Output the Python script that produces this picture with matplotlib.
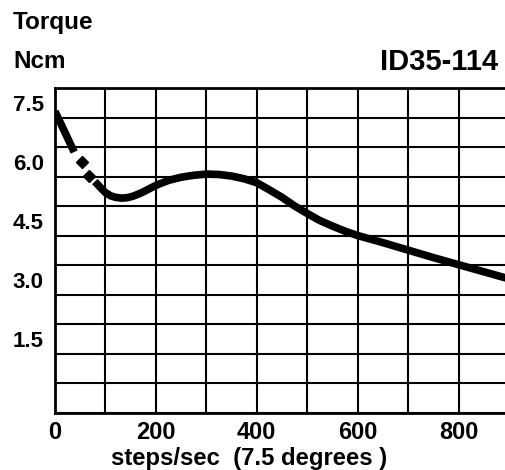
"""Torque vs speed curve for stepper motor ID35-114."""

import matplotlib

matplotlib.use("Agg")
import matplotlib.pyplot as plt
import numpy as np

plt.rcParams["font.family"] = ["Liberation Sans", "DejaVu Sans"]
plt.rcParams["font.weight"] = "bold"

# curve (steps/sec, Ncm)
speed_start = [0, 20, 38]
torque_start = [7.28, 6.74, 6.25]

speed_dashes = [53, 68]
torque_dashes = [6.00, 5.64]

speed_main = [79, 90, 100, 110, 120, 132, 143, 155, 167, 180, 192, 205, 225,
              250, 275, 300, 325, 350, 375, 400, 425, 450, 475, 500, 525, 550,
              575, 600, 650, 700, 750, 800, 850, 900]
torque_main = [5.50, 5.35, 5.22, 5.14, 5.10, 5.08, 5.09, 5.13, 5.19, 5.27,
               5.35, 5.43, 5.53, 5.61, 5.66, 5.69, 5.68, 5.64, 5.57, 5.47,
               5.29, 5.10, 4.88, 4.69, 4.51, 4.37, 4.24, 4.13, 3.95, 3.76,
               3.57, 3.39, 3.21, 3.03]

x_ticks = [0, 200, 400, 600, 800]
y_ticks = [1.5, 3.0, 4.5, 6.0, 7.5]


def main() -> None:
    fig = plt.figure(figsize=(5.06, 4.70), dpi=100)
    ax = fig.add_axes([55 / 506, 57 / 470, 454 / 506, 325 / 470])

    ax.set_xlim(0, 900)
    ax.set_ylim(-0.375, 7.875)

    ax.set_xticks(x_ticks)
    ax.set_xticks(np.arange(100, 901, 200), minor=True)
    ax.set_yticks(y_ticks)
    ax.set_yticklabels([f"{v:.1f}" for v in y_ticks])
    ax.set_yticks(np.arange(-0.375, 7.9, 0.75), minor=True)

    ax.tick_params(which="both", length=0)
    ax.tick_params(axis="x", pad=6, labelsize=17)
    ax.tick_params(axis="y", pad=8, labelsize=16)

    ax.xaxis.grid(True, which="both", color="black", linewidth=1.5)
    ax.yaxis.grid(True, which="minor", color="black", linewidth=1.5)
    for spine in ax.spines.values():
        spine.set_linewidth(2)

    ax.plot(speed_start, torque_start, color="black", linewidth=5.5,
            solid_capstyle="butt")
    ax.plot(speed_dashes, torque_dashes, linestyle="none", marker="D",
            markersize=6.5, color="black")
    ax.plot(speed_main, torque_main, color="black", linewidth=5.5,
            solid_capstyle="butt", solid_joinstyle="round")

    fig.text(13 / 506, 1 - 22 / 470, "Torque", fontsize=17.5, va="center")
    fig.text(13 / 506, 1 - 62 / 470, "Ncm", fontsize=17.5, va="center")
    fig.text(498 / 506, 1 - 62 / 470, "ID35-114", fontsize=21,
             va="center", ha="right")
    fig.text(249 / 506, 1 - 458 / 470, "steps/sec  (7.5 degrees )",
             fontsize=17.2, va="center", ha="center")

    fig.savefig("out.png", dpi=100)
    plt.close(fig)


if __name__ == "__main__":
    main()
